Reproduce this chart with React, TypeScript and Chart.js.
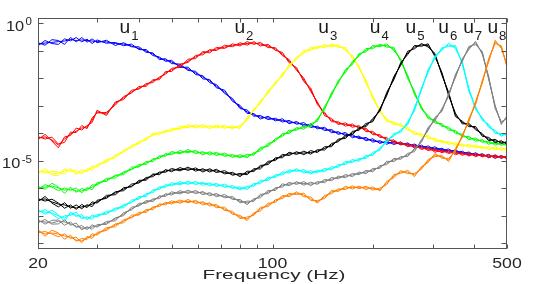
import React, { useEffect, useRef } from "react";
import { Chart, registerables } from "chart.js";

Chart.register(...registerables);

// Frequencies (Hz) at which the spectra are sampled
const FREQS = [20,21,22,23,24,25,26,27,28,29,30,32,34,36,38,40,42,44,46,48,50,53,56,59,62,65,68,72,76,80,84,88,92,97,102,107,112,118,124,130,136,143,150,157,165,173,181,190,199,209,219,230,241,253,265,278,291,305,320,335,351,368,385,403,422,441,461,481,500];

// log10 of power for each component u1..u8
const U1 = [-0.75,-0.71,-0.69,-0.66,-0.64,-0.58,-0.62,-0.60,-0.62,-0.64,-0.66,-0.67,-0.73,-0.75,-0.82,-0.91,-1.00,-1.11,-1.26,-1.33,-1.40,-1.55,-1.66,-1.80,-1.95,-2.09,-2.28,-2.50,-2.79,-3.04,-3.22,-3.33,-3.41,-3.44,-3.50,-3.53,-3.59,-3.62,-3.68,-3.73,-3.79,-3.84,-3.92,-3.99,-4.03,-4.10,-4.15,-4.21,-4.26,-4.32,-4.34,-4.35,-4.37,-4.41,-4.45,-4.48,-4.52,-4.55,-4.59,-4.63,-4.66,-4.70,-4.74,-4.77,-4.79,-4.83,-4.85,-4.86,-4.88];
const U2 = [-4.17,-4.13,-4.24,-4.43,-4.21,-4.03,-3.92,-3.81,-3.77,-3.52,-3.22,-3.30,-2.90,-2.71,-2.50,-2.35,-2.24,-2.09,-1.99,-1.80,-1.69,-1.55,-1.37,-1.22,-1.07,-1.00,-0.93,-0.86,-0.80,-0.76,-0.73,-0.71,-0.75,-0.82,-0.93,-1.11,-1.37,-1.66,-2.06,-2.42,-2.90,-3.30,-3.52,-3.63,-3.68,-3.72,-3.77,-3.88,-3.99,-4.10,-4.21,-4.30,-4.37,-4.43,-4.48,-4.54,-4.57,-4.63,-4.66,-4.68,-4.72,-4.75,-4.77,-4.79,-4.81,-4.83,-4.85,-4.86,-4.88];
const U3 = [-5.41,-5.37,-5.48,-5.45,-5.37,-5.34,-5.45,-5.41,-5.34,-5.26,-5.19,-5.01,-4.83,-4.65,-4.50,-4.35,-4.21,-4.03,-3.99,-3.93,-3.88,-3.81,-3.75,-3.75,-3.73,-3.77,-3.75,-3.77,-3.79,-3.77,-3.48,-3.15,-2.86,-2.50,-2.17,-1.88,-1.55,-1.26,-1.04,-0.93,-0.87,-0.82,-0.80,-0.82,-0.93,-1.22,-1.59,-2.13,-2.68,-3.19,-3.52,-3.64,-3.70,-3.84,-3.99,-4.06,-4.13,-4.24,-4.30,-4.35,-4.39,-4.43,-4.46,-4.48,-4.52,-4.54,-4.55,-4.57,-4.59];
const U4 = [-5.99,-5.96,-5.92,-5.99,-6.07,-6.03,-6.10,-6.10,-6.03,-5.96,-5.85,-5.70,-5.56,-5.45,-5.30,-5.19,-5.08,-4.97,-4.86,-4.79,-4.72,-4.70,-4.66,-4.68,-4.72,-4.72,-4.75,-4.79,-4.83,-4.84,-4.83,-4.75,-4.57,-4.43,-4.24,-4.06,-3.95,-3.84,-3.79,-3.72,-3.52,-3.08,-2.57,-2.13,-1.73,-1.44,-1.15,-0.97,-0.86,-0.80,-0.80,-0.93,-1.33,-1.95,-2.53,-3.08,-3.41,-3.57,-3.70,-3.83,-3.95,-4.08,-4.17,-4.23,-4.28,-4.34,-4.37,-4.39,-4.41];
const U5 = [-6.43,-6.39,-6.50,-6.58,-6.61,-6.68,-6.72,-6.68,-6.65,-6.58,-6.50,-6.32,-6.17,-6.03,-5.92,-5.77,-5.66,-5.52,-5.45,-5.37,-5.34,-5.32,-5.30,-5.32,-5.34,-5.34,-5.37,-5.43,-5.48,-5.52,-5.45,-5.34,-5.23,-5.08,-4.94,-4.83,-4.75,-4.72,-4.72,-4.70,-4.65,-4.55,-4.43,-4.26,-4.13,-3.99,-3.84,-3.70,-3.52,-3.15,-2.57,-1.99,-1.48,-1.07,-0.86,-0.78,-0.80,-1.15,-1.84,-2.57,-3.33,-3.61,-3.70,-3.81,-4.06,-4.21,-4.28,-4.32,-4.35];
const U6 = [-6.83,-6.87,-6.90,-7.01,-7.09,-6.94,-6.98,-7.05,-7.09,-7.05,-7.01,-6.90,-6.76,-6.65,-6.50,-6.36,-6.25,-6.10,-5.99,-5.92,-5.86,-5.83,-5.81,-5.81,-5.83,-5.85,-5.88,-5.92,-5.96,-6.01,-5.99,-5.88,-5.77,-5.66,-5.56,-5.46,-5.39,-5.34,-5.39,-5.43,-5.39,-5.34,-5.28,-5.19,-5.08,-5.01,-4.97,-4.86,-4.75,-4.57,-4.28,-4.06,-3.92,-3.63,-3.12,-2.39,-1.73,-1.22,-0.93,-0.78,-0.86,-1.44,-2.42,-3.08,-3.48,-3.73,-3.95,-4.06,-4.03];
const U7 = [-7.20,-7.23,-7.27,-7.20,-7.23,-7.30,-7.38,-7.45,-7.45,-7.41,-7.38,-7.27,-7.12,-6.94,-6.76,-6.61,-6.50,-6.43,-6.32,-6.25,-6.19,-6.16,-6.14,-6.14,-6.17,-6.21,-6.25,-6.30,-6.36,-6.47,-6.54,-6.43,-6.28,-6.14,-6.03,-5.90,-5.85,-5.81,-5.83,-5.85,-5.81,-5.74,-5.67,-5.61,-5.56,-5.52,-5.46,-5.41,-5.34,-5.23,-5.08,-4.97,-4.90,-4.79,-4.61,-4.28,-3.84,-3.48,-3.15,-2.60,-1.91,-1.33,-0.89,-0.71,-1.07,-1.99,-3.04,-3.63,-3.41];
const U8 = [-7.56,-7.67,-7.63,-7.67,-7.74,-7.78,-7.89,-7.92,-7.81,-7.74,-7.67,-7.49,-7.34,-7.20,-7.05,-6.94,-6.83,-6.72,-6.61,-6.56,-6.52,-6.50,-6.48,-6.50,-6.54,-6.58,-6.65,-6.76,-6.90,-7.05,-7.12,-6.94,-6.76,-6.61,-6.47,-6.32,-6.25,-6.18,-6.25,-6.39,-6.50,-6.32,-6.14,-6.07,-5.99,-5.97,-5.97,-5.99,-6.01,-6.05,-5.81,-5.56,-5.41,-5.41,-5.52,-5.26,-5.01,-4.79,-4.86,-4.97,-4.61,-4.10,-3.52,-2.90,-2.13,-1.33,-0.67,-0.86,-1.55];

// Trial-to-trial deviations (log10) of the repeated estimates
const TRIAL_DEV_A = [0.05,-0.08,0.10,0.04,-0.12,0.07,-0.05,0.09,-0.06,0.08,-0.04,0.06,-0.07,0.05,-0.03,0.06,-0.05,0.04,-0.06,0.05,-0.06,0.07,-0.05,0.06,-0.07,0.05,-0.06,0.07,-0.05,0.06,-0.06,0.05,-0.07,0.06,-0.05,0.06,-0.06,0.05,-0.06,0.07,-0.05,0.06,-0.06,0.05,-0.06,0.06,-0.05,0.06,-0.06,0.05,-0.06,0.06,-0.05,0.06,-0.06,0.05,-0.06,0.06,-0.05,0.06,-0.06,0.05,-0.06,0.06,-0.05,0.06,-0.06,0.05,-0.05];
const TRIAL_DEV_B = [-0.06,0.09,-0.04,-0.10,0.08,-0.05,0.11,-0.07,0.05,-0.09,0.06,-0.05,0.04,-0.06,0.07,-0.04,0.05,-0.06,0.04,-0.05,0.06,-0.05,0.07,-0.06,0.05,-0.07,0.06,-0.05,0.06,-0.06,0.07,-0.05,0.06,-0.06,0.05,-0.06,0.06,-0.05,0.07,-0.06,0.05,-0.06,0.06,-0.05,0.06,-0.06,0.05,-0.06,0.06,-0.05,0.06,-0.06,0.05,-0.06,0.06,-0.05,0.06,-0.06,0.05,-0.06,0.06,-0.05,0.06,-0.06,0.05,-0.06,0.06,-0.05,0.05];

const SERIES = [U1, U2, U3, U4, U5, U6, U7, U8];
const SERIES_NAMES = ["1", "2", "3", "4", "5", "6", "7", "8"];
const SERIES_COLORS = ["#0000ff", "#ff0000", "#ffff00", "#00ff00", "#000000", "#00ffff", "#808080", "#ff8000"];
const LABEL_FREQS = [35, 77, 137, 195, 249, 312, 370, 437];

const X_MIN = 20;
const X_MAX = 500;
const X_TICKS = [20, 30, 40, 50, 60, 70, 80, 90, 100, 200, 300, 400, 500];
const X_TICK_LABELS = [20, 100, 500];
const Y_MIN_EXP = -8.215;
const Y_MAX_EXP = 0.2;
const Y_TICK_EXPONENTS = [-8, -7, -6, -5, -4, -3, -2, -1, 0];
const Y_LABEL_EXPONENTS = [0, -5];
const X_TITLE = "Frequency (Hz)";

const FONT = "'Liberation Sans', Arial, sans-serif";

function stretchText(ctx: CanvasRenderingContext2D, text: string, x: number, y: number, size: number, sx: number, align: CanvasTextAlign) {
  ctx.save();
  ctx.translate(x, y);
  ctx.scale(sx, 1);
  ctx.font = `${size}px ${FONT}`;
  ctx.textAlign = align;
  ctx.textBaseline = "alphabetic";
  ctx.fillText(text, 0, 0);
  ctx.restore();
}

function textW(ctx: CanvasRenderingContext2D, text: string, size: number, sx: number) {
  ctx.save();
  ctx.font = `${size}px ${FONT}`;
  const w = ctx.measureText(text).width * sx;
  ctx.restore();
  return w;
}

const overlayPlugin = {
  id: "overlay",
  afterDraw(chart: any) {
    const { ctx, chartArea: a, scales } = chart;
    const xs = scales.x;
    const ys = scales.y;
    const L = Math.round(a.left) + 0.5;
    const R = Math.round(a.right) - 0.5;
    const T = Math.round(a.top) + 0.5;
    const B = Math.round(a.bottom) - 0.5;
    ctx.save();
    ctx.strokeStyle = "#555555";
    ctx.lineWidth = 1;
    ctx.strokeRect(L, T, R - L, B - T);
    ctx.beginPath();
    for (const v of X_TICKS) {
      const px = Math.round(xs.getPixelForValue(v)) + 0.5;
      ctx.moveTo(px, B);
      ctx.lineTo(px, B - 4);
      ctx.moveTo(px, T);
      ctx.lineTo(px, T + 4);
    }
    for (const e of Y_TICK_EXPONENTS) {
      const py = Math.round(ys.getPixelForValue(Math.pow(10, e))) + 0.5;
      ctx.moveTo(L, py);
      ctx.lineTo(L + 5, py);
      ctx.moveTo(R, py);
      ctx.lineTo(R - 5, py);
    }
    ctx.stroke();

    ctx.fillStyle = "#262626";
    for (const v of X_TICK_LABELS) {
      const px = xs.getPixelForValue(v);
      stretchText(ctx, String(v), px, a.bottom + 19, 15, 1.18, "center");
    }
    stretchText(ctx, X_TITLE, 274, a.bottom + 30, 12.5, 1.66, "center");

    for (const e of Y_LABEL_EXPONENTS) {
      const py = ys.getPixelForValue(Math.pow(10, e));
      const sup = e === 0 ? "0" : "-5";
      const right = 32;
      const supW = textW(ctx, sup, 10, 1.15);
      stretchText(ctx, sup, right, py + 2, 10, 1.15, "right");
      stretchText(ctx, "10", right - supW - 1.5, py + 7.5, 14, 1.17, "right");
    }

    ctx.fillStyle = "#1a1a1a";
    SERIES_NAMES.forEach((name, i) => {
      const px = xs.getPixelForValue(LABEL_FREQS[i]);
      const uW = textW(ctx, "u", 17.5, 1.1);
      stretchText(ctx, "u", px, a.top + 15, 17.5, 1.1, "left");
      stretchText(ctx, name, px + uW + 1, a.top + 21.5, 12, 1.1, "left");
    });
    ctx.restore();
  },
};

export default function App() {
  const ref = useRef<HTMLCanvasElement | null>(null);
  useEffect(() => {
    const canvas = ref.current;
    if (!canvas) return;
    const trials = [null, TRIAL_DEV_A, TRIAL_DEV_B];
    const datasets: any[] = [];
    SERIES.forEach((vals, s) => {
      trials.forEach((dev, t) => {
        datasets.push({
          label: `u${SERIES_NAMES[s]}-${t}`,
          data: FREQS.map((f, i) => ({ x: f, y: Math.pow(10, vals[i] + (dev ? dev[i] : 0)) })),
          borderColor: SERIES_COLORS[s],
          backgroundColor: SERIES_COLORS[s],
          borderWidth: 1,
          pointRadius: 0,
          tension: 0,
          fill: false,
          order: 7 - s,
        });
      });
    });
    const chart = new Chart(canvas, {
      type: "line",
      data: { datasets },
      options: {
        animation: false,
        responsive: false,
        devicePixelRatio: 1,
        layout: { padding: { left: 38, right: 31, top: 18, bottom: 35 } },
        plugins: { legend: { display: false }, tooltip: { enabled: false }, title: { display: false } },
        scales: {
          x: {
            type: "logarithmic",
            min: X_MIN,
            max: X_MAX,
            bounds: "data",
            display: false,
            afterDataLimits: (sc: any) => { sc.min = X_MIN; sc.max = X_MAX; },
          },
          y: {
            type: "logarithmic",
            min: Math.pow(10, Y_MIN_EXP),
            max: Math.pow(10, Y_MAX_EXP),
            bounds: "data",
            display: false,
            afterDataLimits: (sc: any) => { sc.min = Math.pow(10, Y_MIN_EXP); sc.max = Math.pow(10, Y_MAX_EXP); },
          },
        },
      } as any,
      plugins: [overlayPlugin],
    });
    return () => chart.destroy();
  }, []);
  return (
    <div style={{ position: "fixed", left: 0, top: 0, width: 538, height: 284, background: "#ffffff" }}>
      <canvas ref={ref} width={538} height={284} style={{ display: "block" }} />
    </div>
  );
}
